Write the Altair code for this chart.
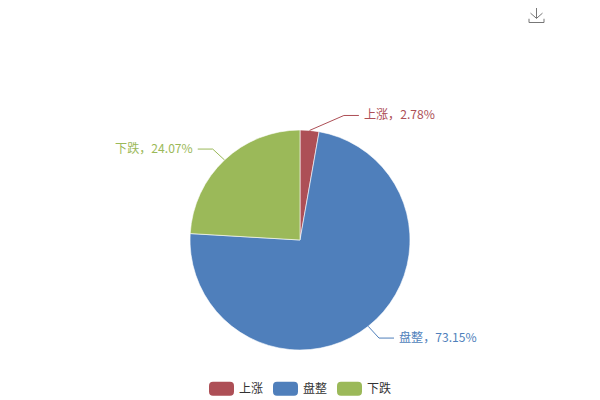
import math
import altair as alt
import pandas as pd

categories = ["上涨", "盘整", "下跌"]
shares = [2.78, 73.15, 24.07]
colors = ["#AD4F56", "#4F7FBB", "#9BB959"]

W, H = 584, 392
CX, CY, R = 292, 232, 110
LEN1, LEN2, GAP, NARROW_SHIFT, WIDE_SHIFT = 15, 15, 5, 33, 1.5
FONT = "Noto Sans CJK SC"

df = pd.DataFrame({"cat": categories, "share": shares, "idx": range(len(categories))})

# Leader lines and labels, placed from each slice's mid-angle
rows, labels, cum = [], [], 0.0
for c, s in zip(categories, shares):
    mid = (cum + s / 2) / 100 * 2 * math.pi
    cum += s
    dx, dy = math.sin(mid), math.cos(mid)
    sign = 1 if dx >= 0 else -1
    k = 1 + LEN1 / R
    shift = NARROW_SHIFT / R if s < 5 else sign * WIDE_SHIFT / R
    p1 = (dx, dy)
    p2 = (dx * k + shift, dy * k)
    p3 = (p2[0] + sign * LEN2 / R, p2[1])
    for i, p in enumerate((p1, p2, p3)):
        rows.append({"cat": c, "i": i, "x": p[0], "y": p[1]})
    labels.append({"cat": c, "x": p3[0] + sign * GAP / R, "y": p3[1],
                   "text": f"{c}，{s:.2f}%", "align": "left" if sign > 0 else "right"})
lines = pd.DataFrame(rows)
lab = pd.DataFrame(labels)

xs = alt.Scale(domain=[-CX / R, (W - CX) / R], range=[0, W], nice=False, zero=False)
ys = alt.Scale(domain=[-(H - CY) / R, CY / R], range=[H, 0], nice=False, zero=False)
cs = alt.Scale(domain=categories, range=colors)

ROUNDED = ("M-0.68,-0.56 L0.68,-0.56 Q1,-0.56 1,-0.24 L1,0.24 Q1,0.56 0.68,0.56 "
           "L-0.68,0.56 Q-1,0.56 -1,0.24 L-1,-0.24 Q-1,-0.56 -0.68,-0.56 Z")

legend = alt.Legend(
    title=None, orient="none", legendX=201, legendY=368, direction="horizontal", columns=3,
    symbolType=ROUNDED, symbolSize=625,
    symbolStrokeWidth=0, symbolOpacity=1, labelFont=FONT, labelFontSize=12, labelColor="#333333",
    columnPadding=9, labelOffset=5,
)

pie = alt.Chart(df).mark_arc(radius=R, stroke="#ffffff", strokeWidth=0.6, opacity=1).encode(
    theta=alt.Theta("share:Q", stack=True),
    order=alt.Order("idx:Q"),
    color=alt.Color("cat:N", scale=cs, legend=legend),
    x=alt.value(CX), y=alt.value(CY),
)
line = alt.Chart(lines).mark_line(strokeWidth=1, interpolate="linear").encode(
    x=alt.X("x:Q", scale=xs, axis=None), y=alt.Y("y:Q", scale=ys, axis=None),
    detail="cat:N", order="i:Q",
    color=alt.Color("cat:N", scale=cs, legend=None),
)
text_r = alt.Chart(lab[lab["align"] == "left"]).mark_text(align="left", baseline="middle", font=FONT, fontSize=12.1).encode(
    x=alt.X("x:Q", scale=xs, axis=None), y=alt.Y("y:Q", scale=ys, axis=None), text="text:N",
    color=alt.Color("cat:N", scale=cs, legend=None),
)
text_l = alt.Chart(lab[lab["align"] == "right"]).mark_text(align="right", baseline="middle", font=FONT, fontSize=12.1).encode(
    x=alt.X("x:Q", scale=xs, axis=None), y=alt.Y("y:Q", scale=ys, axis=None), text="text:N",
    color=alt.Color("cat:N", scale=cs, legend=None),
)
icon = alt.Chart(pd.DataFrame({"k": [1]})).mark_point(
    shape="M0,-1 L0,0.45 M-0.8,-0.25 L0,0.45 L0.8,-0.25 M-1,0.5 L-1,1 L1,1 L1,0.5",
    size=225, filled=False, stroke="#777777", strokeWidth=1, opacity=1,
).encode(x=alt.value(528.5), y=alt.value(7))

chart = alt.layer(pie, line, text_r, text_l, icon).properties(
    width=W, height=H, padding=0, autosize=alt.AutoSizeParams(type="none"),
).configure_view(stroke=None)

chart.save("out.html", embed_options={"renderer": "svg", "actions": False})
